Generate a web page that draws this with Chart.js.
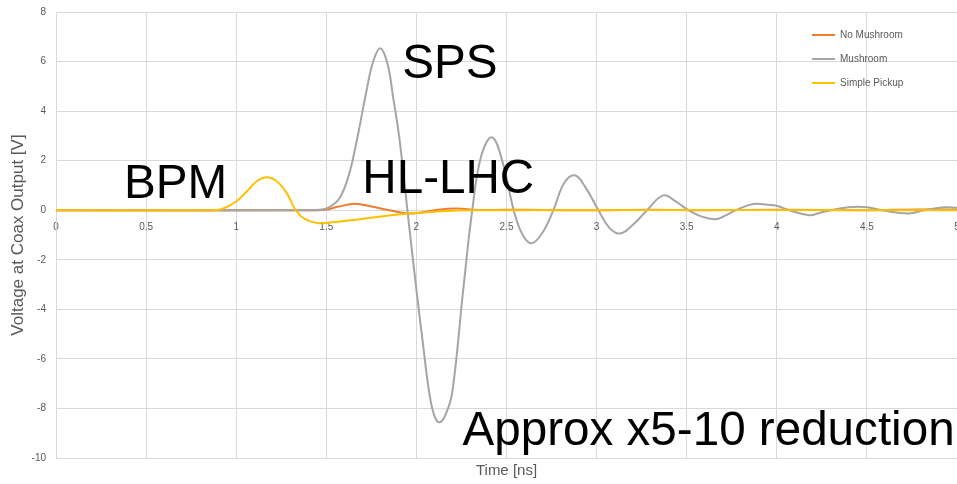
<!DOCTYPE html>
<html lang="en">
<head>
    <meta charset="UTF-8">
    <title>Voltage at Coax Output</title>
    <style>
        body {
            margin: 0;
            background-color: #ffffff;
        }
        .wrap {
            width: 957px;
            height: 484px;
        }
    </style>
</head>
<body>
    <div class="wrap">
        <canvas id="coaxChart"></canvas>
    </div>

    <script src="https://cdn.jsdelivr.net/npm/chart.js"></script>
    <script>
        // Time [ns] and voltage [V] for each pickup
        const noMushroomT = [0, 1.45, 1.50, 1.57, 1.66, 1.75, 1.85, 1.95, 2.02, 2.10, 2.22, 2.34, 2.50, 2.70, 3.00, 3.30, 3.60, 4.00, 4.50, 4.80, 5.00];
        const noMushroomV = [0, 0, 0.03, 0.15, 0.26, 0.15, 0, -0.13, -0.10, 0, 0.07, 0.01, 0.02, 0.01, 0, 0.02, 0, 0.02, 0, 0.03, 0.02];

        const mushroomT = [0, 1.42, 1.50, 1.55, 1.575, 1.60, 1.62, 1.64, 1.68, 1.72, 1.76, 1.80, 1.84, 1.87, 1.90, 1.925, 1.95, 2.00, 2.035, 2.07, 2.10, 2.13,
            2.165, 2.20, 2.26, 2.31, 2.36, 2.42, 2.48, 2.54, 2.59, 2.64, 2.70, 2.76, 2.82, 2.88, 2.94, 3.01, 3.07, 3.13, 3.20, 3.28,
            3.37, 3.44, 3.51, 3.58, 3.66, 3.72, 3.77, 3.87, 3.95, 4.00, 4.07, 4.18, 4.24, 4.30, 4.40, 4.50, 4.58, 4.73, 4.82, 4.93, 5.00];
        const mushroomV = [0, 0, 0.07, 0.29, 0.5, 0.88, 1.3, 1.82, 3.2, 4.7, 6.0, 6.54, 5.9, 4.6, 3.2, 1.7, 0, -3.2, -5.3, -7.3, -8.3, -8.56,
            -8.2, -7.3, -3.2, 0, 2.2, 2.94, 1.9, 0, -1.0, -1.33, -0.9, 0, 1.1, 1.41, 0.9, 0, -0.7, -0.94, -0.6, 0,
            0.6, 0.35, 0, -0.25, -0.36, -0.2, 0, 0.25, 0.22, 0.18, 0, -0.2, -0.1, 0, 0.12, 0.12, 0, -0.13, 0, 0.12, 0.1];

        const pickupT = [0, 0.85, 0.92, 1.00, 1.07, 1.12, 1.17, 1.22, 1.28, 1.33, 1.38, 1.45, 1.52, 1.70, 1.90, 2.10, 2.30, 5.00];
        const pickupV = [0, 0, 0.05, 0.35, 0.85, 1.2, 1.33, 1.2, 0.7, 0, -0.35, -0.52, -0.5, -0.35, -0.17, -0.06, 0, 0];

        const seriesNames = ['No Mushroom', 'Mushroom', 'Simple Pickup'];
        const seriesColors = ['#ED7D31', '#A5A5A5', '#FFC000'];

        const yTicks = [-10, -8, -6, -4, -2, 0, 2, 4, 6, 8];

        // big labels placed in data coordinates: [text, t, v]
        const notes = [
            ['BPM', 0.378, 0.48],
            ['SPS', 1.922, 5.35],
            ['HL-LHC', 1.70, 0.69],
            ['Approx x5-10 reduction', 2.256, -9.48]
        ];

        function toPoints(ts, vs) {
            return ts.map((t, i) => ({ x: t, y: vs[i] }));
        }

        const axisFont = "'Liberation Sans', Arial, sans-serif";

        // keep tick labels from pushing the plot area inwards
        function noPadding(scale) {
            scale.paddingLeft = 0;
            scale.paddingRight = 0;
            scale.paddingTop = 0;
            scale.paddingBottom = 0;
        }

        const notesPlugin = {
            id: 'notes',
            afterDatasetsDraw(chart) {
                const ctx = chart.ctx;
                const xs = chart.scales.x, ys = chart.scales.y;
                ctx.save();
                ctx.fillStyle = '#000000';
                ctx.font = "47.6px 'Liberation Sans', Arial, sans-serif";
                ctx.textBaseline = 'alphabetic';
                ctx.textAlign = 'left';
                notes.forEach(n => {
                    ctx.fillText(n[0], xs.getPixelForValue(n[1]), ys.getPixelForValue(n[2]));
                });
                ctx.restore();
            }
        };

        // legend box sitting inside the plot, top right
        const sideLegend = {
            id: 'sideLegend',
            afterDraw(chart) {
                const ctx = chart.ctx;
                const area = chart.chartArea;
                ctx.save();
                ctx.font = '10px ' + axisFont;
                ctx.textBaseline = 'middle';
                chart.data.datasets.forEach((ds, i) => {
                    const y = area.top + 23 + i * 24;
                    const x0 = area.right - 145;
                    ctx.strokeStyle = ds.borderColor;
                    ctx.lineWidth = 2;
                    ctx.beginPath();
                    ctx.moveTo(x0, y);
                    ctx.lineTo(x0 + 23, y);
                    ctx.stroke();
                    ctx.fillStyle = '#595959';
                    ctx.fillText(ds.label, x0 + 28, y);
                });
                ctx.restore();
            }
        };

        const ctx = document.getElementById('coaxChart').getContext('2d');
        new Chart(ctx, {
            type: 'scatter',
            data: {
                datasets: [
                    { label: seriesNames[0], data: toPoints(noMushroomT, noMushroomV), order: 2 },
                    { label: seriesNames[1], data: toPoints(mushroomT, mushroomV), order: 1 },
                    { label: seriesNames[2], data: toPoints(pickupT, pickupV), order: 0 }
                ].map((ds, i) => Object.assign(ds, {
                    showLine: true,
                    borderColor: seriesColors[i],
                    backgroundColor: seriesColors[i],
                    borderWidth: 2,
                    pointRadius: 0,
                    tension: 0.4
                }))
            },
            options: {
                responsive: true,
                maintainAspectRatio: false,
                animation: false,
                layout: { padding: { top: 12, right: 0, left: 0, bottom: 0 } },
                plugins: {
                    legend: { display: false },
                    tooltip: { enabled: false }
                },
                scales: {
                    x: {
                        type: 'linear',
                        position: { y: 0 },
                        min: 0,
                        max: 5,
                        ticks: {
                            stepSize: 0.5,
                            padding: 11,
                            color: '#595959',
                            font: { family: axisFont, size: 10 },
                            maxRotation: 0,
                            callback: v => String(v)
                        },
                        grid: { color: '#d9d9d9', drawTicks: false },
                        border: { color: '#d9d9d9' },
                        afterFit: noPadding
                    },
                    x2: {
                        type: 'linear',
                        position: 'bottom',
                        min: 0,
                        max: 5,
                        ticks: { display: false },
                        grid: { display: false, drawTicks: false },
                        border: { display: false },
                        title: {
                            display: true,
                            text: 'Time [ns]',
                            color: '#595959',
                            font: { family: axisFont, size: 15 },
                            padding: { top: 0, bottom: 4 }
                        },
                        afterFit(scale) {
                            noPadding(scale);
                            scale.height = 26;
                        }
                    },
                    y: {
                        min: -10,
                        max: 8,
                        afterBuildTicks(scale) {
                            scale.ticks = yTicks.map(v => ({ value: v }));
                        },
                        ticks: {
                            padding: 10,
                            color: '#595959',
                            font: { family: axisFont, size: 10 }
                        },
                        grid: { color: '#d9d9d9', drawTicks: false },
                        border: { color: '#d9d9d9' },
                        title: {
                            display: true,
                            text: 'Voltage at Coax Output [V]',
                            color: '#595959',
                            font: { family: axisFont, size: 17 },
                            padding: { top: 8, bottom: 0 }
                        },
                        afterFit(scale) {
                            noPadding(scale);
                            scale.width = 56;
                        }
                    }
                }
            },
            plugins: [notesPlugin, sideLegend]
        });
    </script>
</body>
</html>
